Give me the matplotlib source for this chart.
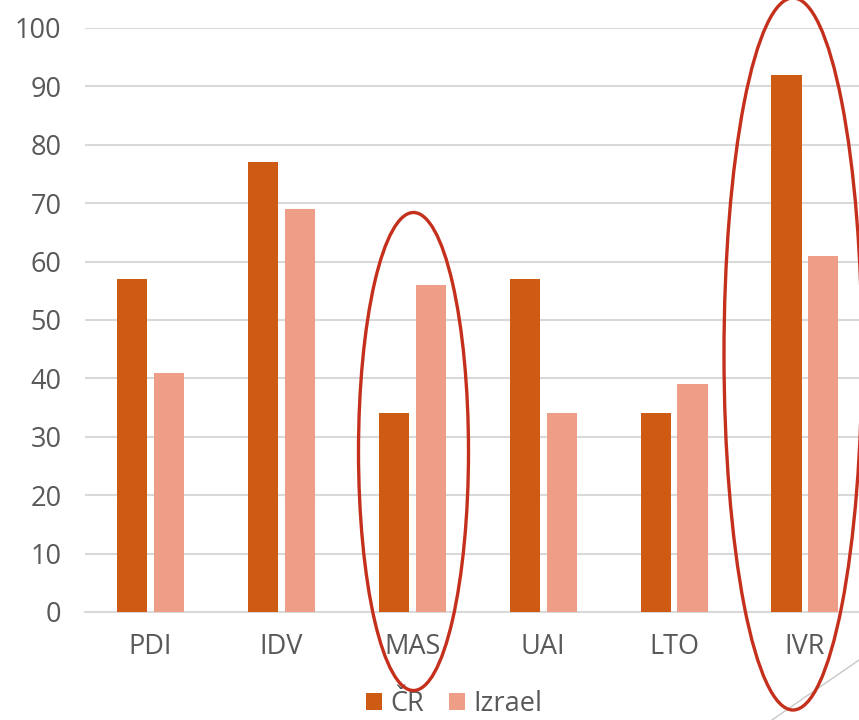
import matplotlib
matplotlib.use("Agg")
import matplotlib.pyplot as plt
import numpy as np
from matplotlib.patches import Ellipse
from matplotlib.lines import Line2D

plt.rcParams['font.family'] = ['Open Sans', 'DejaVu Sans']

categories = ["PDI", "IDV", "MAS", "UAI", "LTO", "IVR"]
cr_values = [57, 77, 34, 57, 34, 92]
israel_values = [41, 69, 56, 34, 39, 61]
y_ticks = [0, 10, 20, 30, 40, 50, 60, 70, 80, 90, 100]

cr_color = "#CF5A14"
il_color = "#EE9D87"
text_color = "#595959"
grid_color = "#D9D9D9"
ring_color = "#C4301C"

W, H = 859, 720
fig = plt.figure(figsize=(W / 100, H / 100), dpi=100)
ax = fig.add_axes([85 / W, (H - 612) / H, 785.4 / W, (612 - 28) / H])

x = np.arange(len(categories))
bw = 0.23
off = 0.141
ax.bar(x - off, cr_values, bw, color=cr_color, label="ČR", zorder=3)
ax.bar(x + off, israel_values, bw, color=il_color, label="Izrael", zorder=3)

ax.set_xlim(-0.5, len(categories) - 0.5)
ax.set_ylim(0, 100)
ax.set_yticks(y_ticks)
ax.set_xticks(x)
ax.set_xticklabels(categories)
ax.yaxis.grid(True, color=grid_color, linewidth=1.5, zorder=0)
ax.set_axisbelow(True)
for s in ["top", "right", "left"]:
    ax.spines[s].set_visible(False)
ax.spines["bottom"].set_color(grid_color)
ax.spines["bottom"].set_linewidth(1.5)
ax.tick_params(axis="both", length=0, colors=text_color, labelsize=19.5)
ax.tick_params(axis="y", pad=17)
ax.tick_params(axis="x", pad=15)

# highlight rings around MAS and IVR
def ring(cx, cy, w, h):
    e = Ellipse((cx / W, (H - cy) / H), w / W, h / H, transform=fig.transFigure,
                fill=False, edgecolor=ring_color, linewidth=2.4, zorder=10)
    fig.add_artist(e)

ring(413.5, 451.5, 110, 478)
ring(793, 354, 138, 712)

# thin decorative diagonal in the corner
fig.add_artist(Line2D([772 / W, 1.0], [0.0, (H - 660) / H], transform=fig.transFigure,
                      color="#C8C8C8", linewidth=1.0))

leg = fig.legend(loc="center", bbox_to_anchor=(454 / W, (H - 704) / H), ncol=2,
                 frameon=False, fontsize=19.5, handlelength=0.6, handleheight=0.6,
                 handletextpad=0.3, columnspacing=0.9, labelcolor=text_color)

fig.savefig("out.png", dpi=100)
